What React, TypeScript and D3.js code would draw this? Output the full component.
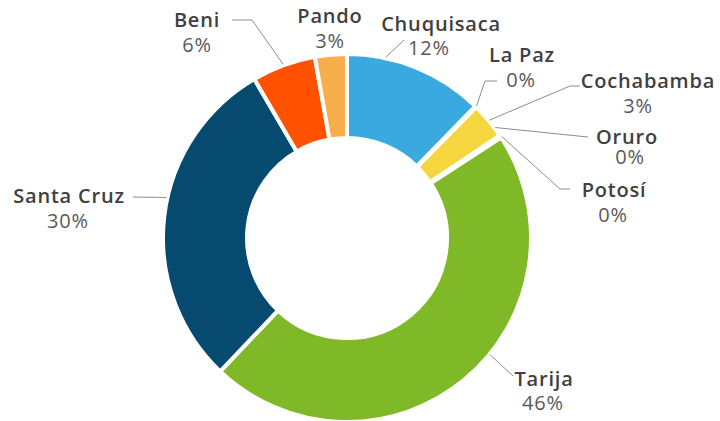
import * as d3 from 'd3';

// departments in clockwise order starting at 12 o'clock
const departments = ['Chuquisaca', 'La Paz', 'Cochabamba', 'Oruro', 'Potosí', 'Tarija', 'Santa Cruz', 'Beni', 'Pando'];
const shares = [12.3, 0.1, 3.2, 0.1, 0.1, 46.3, 29.5, 5.6, 2.8];
const sliceColors = ['#3aa9e0', '#9e9e9e', '#f5d63f', '#a5a5a5', '#7f7f7f', '#80b928', '#064a6f', '#ff5100', '#f9ae4c'];

// manual label placement (like the dragged labels of the original)
const labelLayout: Record<string, { x: number; y: number; pctDx: number; gap: number; shift: number; leader: number[][] }> = {
  'Chuquisaca': { x: 441, y: 31, pctDx: -12, gap: 24, shift: -10, leader: [[404, 40]] },
  'La Paz': { x: 522, y: 62, pctDx: -1, gap: 25, shift: 0, leader: [[485, 81], [497, 81]] },
  'Cochabamba': { x: 648, y: 88, pctDx: -10, gap: 25, shift: 0, leader: [[570, 86], [580, 86]] },
  'Oruro': { x: 627, y: 144, pctDx: 3, gap: 20, shift: -3, leader: [[588, 137]] },
  'Potosí': { x: 614, y: 197, pctDx: -1, gap: 25, shift: 0, leader: [[560, 189], [570, 189]] },
  'Tarija': { x: 544, y: 386, pctDx: -1, gap: 24, shift: -11, leader: [[513, 376]] },
  'Santa Cruz': { x: 69, y: 203, pctDx: -1, gap: 25, shift: 6, leader: [[133, 197]] },
  'Beni': { x: 197, y: 27, pctDx: 0, gap: 25, shift: 0, leader: [[252, 20], [232, 20]] },
  'Pando': { x: 330, y: 23, pctDx: 0, gap: 25, shift: 0, leader: [] },
};

const WIDTH = 720;
const HEIGHT = 421;
const cx = 347;
const cy = 238;
const outerR = 184;
const innerR = 100;

const App = () => {
  const data = departments.map((name, i) => ({ name, value: shares[i], color: sliceColors[i] }));

  const pie = d3.pie<any>()
    .sort(null)
    .value(d => d.value)
    .startAngle(0)
    .endAngle(2 * Math.PI);

  const arc = d3.arc<any>()
    .innerRadius(innerR)
    .outerRadius(outerR);

  const arcs = pie(data);

  const line = d3.line();

  return (
    <svg width={WIDTH} height={HEIGHT} style={{ position: 'absolute', left: 0, top: 0 }}>
      <rect width={WIDTH} height={HEIGHT} fill="#fff" />
      <g transform={`translate(${cx},${cy})`}>
        {arcs.map(a => (
          <path key={a.data.name} d={arc(a) || ''} fill={a.data.color} stroke="#fff" strokeWidth={4} strokeLinejoin="miter" />
        ))}
      </g>
      {arcs.map(a => {
        const lay = labelLayout[a.data.name];
        const mid = (a.startAngle + a.endAngle) / 2 + (lay.shift * Math.PI) / 180;
        const start = [cx + (outerR + 1) * Math.sin(mid), cy - (outerR + 1) * Math.cos(mid)];
        const pts = [start, ...lay.leader] as [number, number][];
        return (
          <g key={a.data.name}>
            {lay.leader.length > 0 && (
              <path d={line(pts) || ''} fill="none" stroke="#8c8c8c" strokeWidth={1} />
            )}
            <text
              x={lay.x}
              y={lay.y}
              textAnchor="middle"
              fontFamily="'Open Sans', sans-serif"
              fontWeight={600}
              fontSize={20}
              letterSpacing={0.8}
              fill="#404040"
            >
              {a.data.name}
            </text>
            <text
              x={lay.x + lay.pctDx}
              y={lay.y + lay.gap}
              textAnchor="middle"
              fontFamily="'Open Sans', sans-serif"
              fontWeight={400}
              fontSize={20}
              letterSpacing={0.8}
              fill="#595959"
            >
              {`${Math.round(a.data.value)}%`}
            </text>
          </g>
        );
      })}
    </svg>
  );
};

export default App;
